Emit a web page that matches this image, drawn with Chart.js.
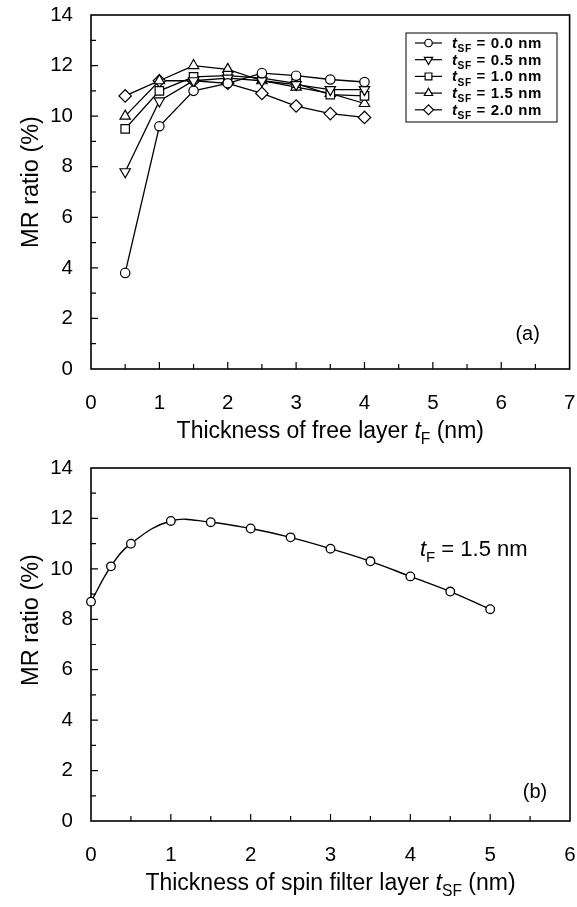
<!DOCTYPE html>
<html>
<head>
<meta charset="utf-8">
<script src="https://cdn.jsdelivr.net/npm/chart.js@4.4.0/dist/chart.umd.min.js"></script>
<style>
body { margin: 0; background: #fff; }
#wrapA { position: absolute; left: 0; top: 0; width: 577px; height: 445px; }
#wrapB { position: absolute; left: 0; top: 445px; width: 577px; height: 462px; }
</style>
</head>
<body>
<div id="wrapA"><canvas id="chartA"></canvas></div>
<div id="wrapB"><canvas id="chartB"></canvas></div>
<script>
// (a) MR ratio vs thickness of free layer, one series per spin filter thickness
var freeLayer = [0.5, 1, 1.5, 2, 2.5, 3, 3.5, 4];
var sf00 = [3.8, 9.6, 11.0, 11.3, 11.7, 11.6, 11.45, 11.35];
var sf05 = [7.8, 10.6, 11.4, 11.5, 11.4, 11.25, 11.05, 11.05];
var sf10 = [9.5, 11.0, 11.55, 11.6, 11.5, 11.3, 10.85, 10.8];
var sf15 = [10.0, 11.4, 12.0, 11.85, 11.4, 11.15, 10.9, 10.5];
var sf20 = [10.8, 11.4, 11.4, 11.3, 10.9, 10.4, 10.1, 9.95];
var sfLabels = ['0.0', '0.5', '1.0', '1.5', '2.0'];
var xTicksA = [0, 1, 2, 3, 4, 5, 6, 7];

// (b) MR ratio vs thickness of spin filter layer, tF = 1.5 nm
var spinFilter = [0, 0.25, 0.5, 1, 1.5, 2, 2.5, 3, 3.5, 4, 4.5, 5];
var mrB = [8.7, 10.1, 11.0, 11.9, 11.85, 11.6, 11.25, 10.8, 10.3, 9.7, 9.1, 8.4];
var xTicksB = [0, 1, 2, 3, 4, 5, 6];
var yTicks = [0, 2, 4, 6, 8, 10, 12, 14];

var FONT = '"Liberation Sans", Arial, Helvetica, sans-serif';
Chart.defaults.font.family = FONT;
Chart.defaults.color = '#000';

// marker looks for the five series of (a)
var markers = [
	{ style: 'circle', rot: 0, r: 4.7 },
	{ style: 'triangle', rot: 180, r: 6 },
	{ style: 'rect', rot: 0, r: 6 },
	{ style: 'triangle', rot: 0, r: 6 },
	{ style: 'rectRot', rot: 0, r: 6.2 }
];

function pts(xs, ys) {
	return xs.map(function (x, i) { return { x: x, y: ys[i] }; });
}

// draws text made of pieces: [text, 'i' | 'sub' | '']
function richText(ctx, parts, x, y, size, align, bold, spacing) {
	var total = 0, pieces = [];
	if (spacing) ctx.letterSpacing = spacing;
	parts.forEach(function (p) {
		var s = p[1] === 'sub' ? size * 0.68 : size;
		var f = (bold ? 'bold ' : '') + (p[1] === 'i' ? 'italic ' : '') + s + 'px ' + FONT;
		ctx.font = f;
		var w = ctx.measureText(p[0]).width;
		pieces.push({ t: p[0], f: f, w: w, dy: p[1] === 'sub' ? size * 0.28 : 0 });
		total += w;
	});
	var cx = align === 'center' ? x - total / 2 : x;
	ctx.textAlign = 'left';
	ctx.textBaseline = 'alphabetic';
	pieces.forEach(function (p) {
		ctx.font = p.f;
		ctx.fillText(p.t, cx, y + p.dy);
		cx += p.w;
	});
	if (spacing) ctx.letterSpacing = '0px';
}

function drawMarker(ctx, m, x, y) {
	ctx.save();
	ctx.fillStyle = '#fff';
	ctx.strokeStyle = '#000';
	ctx.lineWidth = 1.2;
	Chart.helpers.drawPoint(ctx, { pointStyle: m.style, rotation: m.rot, radius: m.r, borderWidth: 1.2 }, x, y);
	ctx.restore();
}

// box round the plot and inward tick marks
var frameTicks = {
	id: 'frameTicks',
	beforeDatasetsDraw: function (chart) {
		var ctx = chart.ctx, a = chart.chartArea;
		var sx = chart.scales.x, sy = chart.scales.y;
		ctx.save();
		ctx.strokeStyle = '#000';
		ctx.lineWidth = 1.6;
		ctx.strokeRect(a.left, a.top, a.right - a.left, a.bottom - a.top);
		ctx.lineWidth = 1.2;
		ctx.beginPath();
		for (var v = sx.min + 0.5; v < sx.max; v += 0.5) {
			var px = sx.getPixelForValue(v);
			var len = v % 1 === 0 ? 7 : 5;
			ctx.moveTo(px, a.bottom);
			ctx.lineTo(px, a.bottom - len);
		}
		for (var w = sy.min + 1; w < sy.max; w += 1) {
			var py = sy.getPixelForValue(w);
			var l2 = w % 2 === 0 ? 7 : 5;
			ctx.moveTo(a.left, py);
			ctx.lineTo(a.left + l2, py);
		}
		ctx.stroke();
		ctx.restore();
	}
};

function yTitle(ctx, x, y) {
	ctx.save();
	ctx.translate(x, y);
	ctx.rotate(-Math.PI / 2);
	ctx.font = '23.5px ' + FONT;
	ctx.fillStyle = '#000';
	ctx.textAlign = 'center';
	ctx.textBaseline = 'middle';
	ctx.fillText('MR ratio (%)', 0, 0);
	ctx.restore();
}

var labelsA = {
	id: 'labelsA',
	afterDraw: function (chart) {
		var ctx = chart.ctx, a = chart.chartArea;
		ctx.save();
		ctx.fillStyle = '#000';
		yTitle(ctx, 32, 182);
		richText(ctx, [['Thickness of free layer ', ''], ['t', 'i'], ['F', 'sub'], [' (nm)', '']],
			(a.left + a.right) / 2, a.bottom + 69, 23, 'center', false);
		ctx.font = '20px ' + FONT;
		ctx.textAlign = 'center';
		ctx.textBaseline = 'middle';
		ctx.fillText('(a)', a.right - 42, a.bottom - 35);

		// legend box
		var bx = 406, by = 33, bw = 151, bh = 89;
		ctx.strokeStyle = '#000';
		ctx.lineWidth = 1;
		ctx.strokeRect(bx, by, bw, bh);
		chart.data.datasets.forEach(function (ds, i) {
			var ry = by + 10 + i * 16.7;
			ctx.strokeStyle = '#000';
			ctx.lineWidth = 1.2;
			ctx.beginPath();
			ctx.moveTo(bx + 9, ry);
			ctx.lineTo(bx + 36, ry);
			ctx.stroke();
			var m = markers[i];
			drawMarker(ctx, { style: m.style, rot: m.rot, r: m.r * 0.8 }, bx + 22.5, ry);
			ctx.fillStyle = '#000';
			richText(ctx, [['t', 'i'], ['SF', 'sub'], [' = ' + sfLabels[i] + ' nm', '']],
				bx + 46, ry + 5, 15, 'left', true, '0.6px');
		});
		ctx.restore();
	}
};

var labelsB = {
	id: 'labelsB',
	afterDraw: function (chart) {
		var ctx = chart.ctx, a = chart.chartArea;
		ctx.save();
		ctx.fillStyle = '#000';
		yTitle(ctx, 32, 175);
		richText(ctx, [['Thickness of spin filter layer ', ''], ['t', 'i'], ['SF', 'sub'], [' (nm)', '']],
			(a.left + a.right) / 2, a.bottom + 69, 23, 'center', false);
		richText(ctx, [['t', 'i'], ['F', 'sub'], [' = 1.5 nm', '']], 420, 111, 22, 'left', false);
		ctx.font = '20px ' + FONT;
		ctx.textAlign = 'center';
		ctx.textBaseline = 'middle';
		ctx.fillText('(b)', a.right - 35, a.bottom - 29);
		ctx.restore();
	}
};

function axes(xMin, xMax, xTicks, xHeight) {
	return {
		x: {
			type: 'linear', min: xMin, max: xMax,
			afterBuildTicks: function (s) { s.ticks = xTicks.map(function (v) { return { value: v }; }); },
			afterFit: function (s) { s.height = xHeight; s.paddingLeft = 0; s.paddingRight = 0; },
			grid: { display: false }, border: { display: false },
			ticks: { font: { size: 20.5 }, padding: 14, maxRotation: 0, autoSkip: false }
		},
		y: {
			type: 'linear', min: 0, max: 14,
			afterBuildTicks: function (s) { s.ticks = yTicks.map(function (v) { return { value: v }; }); },
			afterFit: function (s) { s.width = 91; s.paddingTop = 0; s.paddingBottom = 0; },
			grid: { display: false }, border: { display: false },
			ticks: { font: { size: 20.5 }, padding: 10, autoSkip: false }
		}
	};
}

var seriesA = [sf00, sf05, sf10, sf15, sf20];
new Chart(document.getElementById('chartA'), {
	type: 'line',
	data: {
		datasets: seriesA.map(function (vals, i) {
			return {
				label: 't_SF = ' + sfLabels[i] + ' nm',
				data: pts(freeLayer, vals),
				borderColor: '#000',
				borderWidth: 1.3,
				backgroundColor: '#fff',
				pointStyle: markers[i].style,
				pointRotation: markers[i].rot,
				pointRadius: markers[i].r,
				pointBorderWidth: 1.2,
				pointBackgroundColor: '#fff',
				pointBorderColor: '#000',
				tension: 0,
				clip: false
			};
		})
	},
	options: {
		responsive: true, maintainAspectRatio: false, animation: false,
		layout: { padding: { top: 15, right: 5, left: 0, bottom: 0 } },
		plugins: { legend: { display: false }, tooltip: { enabled: false } },
		scales: axes(0, 7, xTicksA, 76)
	},
	plugins: [frameTicks, labelsA]
});

new Chart(document.getElementById('chartB'), {
	type: 'line',
	data: {
		datasets: [{
			label: 'tF = 1.5 nm',
			data: pts(spinFilter, mrB),
			borderColor: '#000',
			borderWidth: 1.4,
			pointStyle: 'circle',
			pointRadius: 4.3,
			pointBorderWidth: 1.3,
			pointBackgroundColor: '#fff',
			pointBorderColor: '#000',
			tension: 0.4,
			clip: false
		}]
	},
	options: {
		responsive: true, maintainAspectRatio: false, animation: false,
		layout: { padding: { top: 23, right: 7, left: 0, bottom: 0 } },
		plugins: { legend: { display: false }, tooltip: { enabled: false } },
		scales: axes(0, 6, xTicksB, 86)
	},
	plugins: [frameTicks, labelsB]
});
</script>
</body>
</html>
